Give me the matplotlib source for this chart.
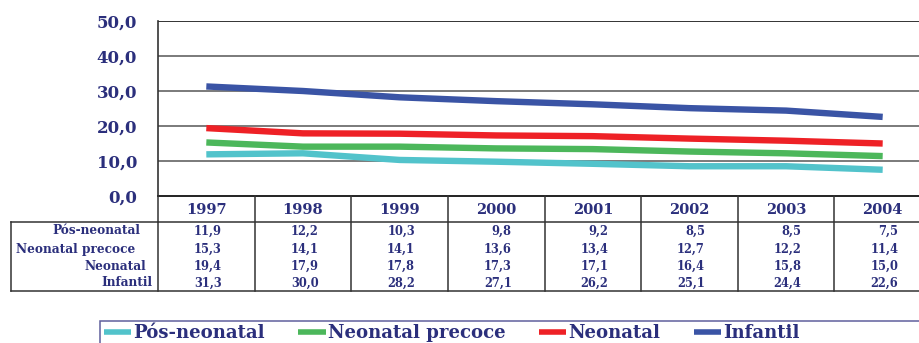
import matplotlib

matplotlib.use("Agg")
import matplotlib.pyplot as plt
import matplotlib.transforms as mtransforms
from matplotlib.patches import Rectangle

# Mortality rates per 1000 live births, 1997-2004
years = ["1997", "1998", "1999", "2000", "2001", "2002", "2003", "2004"]
series_names = ["Pós-neonatal", "Neonatal precoce", "Neonatal", "Infantil"]
pos_neonatal = [11.9, 12.2, 10.3, 9.8, 9.2, 8.5, 8.5, 7.5]
neonatal_precoce = [15.3, 14.1, 14.1, 13.6, 13.4, 12.7, 12.2, 11.4]
neonatal = [19.4, 17.9, 17.8, 17.3, 17.1, 16.4, 15.8, 15.0]
infantil = [31.3, 30.0, 28.2, 27.1, 26.2, 25.1, 24.4, 22.6]
yticks = [0, 10, 20, 30, 40, 50]

series = [pos_neonatal, neonatal_precoce, neonatal, infantil]
colors = ["#52c3cb", "#4cb75b", "#ee2126", "#3a54a5"]
navy = "#2b2f7c"
serif = "DejaVu Serif"

W, H = 920, 343
fig = plt.figure(figsize=(W / 100, H / 100), dpi=100)


def fx(px):
    return px / W


def fy(py):
    return 1 - py / H


# plot area runs past the right edge, like the cropped source sheet
ax = fig.add_axes([fx(158), fy(196), fx(773), 175 / H])
x = list(range(len(years)))
lines = []
for vals, name, c in zip(series, series_names, colors):
    (ln,) = ax.plot(x, vals, color=c, lw=4.6, solid_capstyle="butt", label=name, zorder=3)
    lines.append(ln)

ax.set_xlim(-0.5, len(years) - 0.5)
ax.set_ylim(0, 50)
ax.set_yticks(yticks)
ax.set_yticklabels([f"{v:.1f}".replace(".", ",") for v in yticks])
ax.set_xticks([])
ax.tick_params(axis="y", length=0, pad=15, labelsize=12, labelcolor=navy)
for lab in ax.get_yticklabels():
    lab.set_fontfamily(serif)
    lab.set_fontweight("bold")
for v in yticks[1:]:
    ax.axhline(v, color="#7a7a7a" if v < 50 else "#333333", lw=1.4, zorder=1)
for side in ("top", "right"):
    ax.spines[side].set_visible(False)
ax.spines["left"].set_color("#333333")
ax.spines["left"].set_linewidth(1.2)
ax.spines["bottom"].set_color("#222222")
ax.spines["bottom"].set_linewidth(1.4)

# data table under the axis: x in data units, y in figure pixels
tr = mtransforms.blended_transform_factory(ax.transData, fig.transFigure)
line_kw = dict(color="#333333", lw=1.1, clip_on=False)
for k in range(len(years) + 1):
    fig.add_artist(plt.Line2D([k - 0.5, k - 0.5], [fy(196), fy(291)], transform=tr, **line_kw))
fig.add_artist(plt.Line2D([fx(158), 1], [fy(222), fy(222)], transform=fig.transFigure, **line_kw))
fig.add_artist(plt.Line2D([fx(11), fx(158)], [fy(222), fy(222)], transform=fig.transFigure, **line_kw))
fig.add_artist(plt.Line2D([fx(11), 1], [fy(291), fy(291)], transform=fig.transFigure, **line_kw))
fig.add_artist(plt.Line2D([fx(11), fx(11)], [fy(222), fy(291)], transform=fig.transFigure, **line_kw))

for i, yr in enumerate(years):
    fig.text(i, fy(210), yr, transform=tr, ha="center", va="center",
             fontsize=10.5, fontweight="bold", family=serif, color=navy)

row_y = [231, 249, 266, 283]
label_right = [140, 135, 146, 153]
for vals, name, ry, lr in zip(series, series_names, row_y, label_right):
    fig.text(fx(lr), fy(ry), name, ha="right", va="center",
             fontsize=8.7, fontweight="bold", family=serif, color=navy)
    for i, v in enumerate(vals):
        fig.text(i + 0.16, fy(ry), f"{v:.1f}".replace(".", ","), transform=tr,
                 ha="right", va="center", fontsize=8.3, fontweight="bold",
                 family=serif, color=navy)

# legend strip along the bottom
fig.add_artist(Rectangle((fx(100), fy(360)), 1, 39 / H, transform=fig.transFigure,
                         fill=False, edgecolor="#5f5f9c", lw=1.1, clip_on=False))
leg = fig.legend(handles=lines, loc="center left", bbox_to_anchor=(fx(104), fy(333)),
                 ncol=4, frameon=False, borderpad=0, borderaxespad=0,
                 handlelength=1.5, handletextpad=0.1, columnspacing=1.85,
                 prop=dict(family=serif, weight="bold", size=13.1))
for t in leg.get_texts():
    t.set_color(navy)
for h in leg.legend_handles:
    h.set_linewidth(4.0)

fig.savefig("out.png", dpi=100)
